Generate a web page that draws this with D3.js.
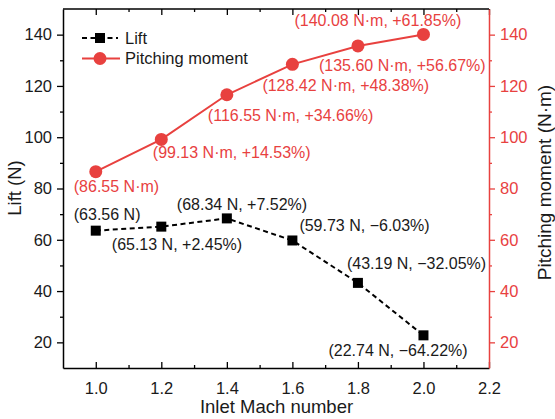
<!DOCTYPE html>
<html>
<head>
<meta charset="utf-8">
<script src="https://cdn.jsdelivr.net/npm/d3@7"></script>
<style>
  body { margin: 0; background: #fff; }
  svg { display: block; font-family: "Liberation Sans", Arial, sans-serif; }
</style>
</head>
<body>
<svg id="chart" width="555" height="419"></svg>
<script>
// Inlet Mach numbers
const mach = [1.0, 1.2, 1.4, 1.6, 1.8, 2.0];
// Lift (N)
const lift = [63.56, 65.13, 68.34, 59.73, 43.19, 22.74];
// Pitching moment (N·m)
const pitch = [86.55, 99.13, 116.55, 128.42, 135.60, 140.08];
// Annotation texts
const liftLabels = ["(63.56 N)", "(65.13 N, +2.45%)", "(68.34 N, +7.52%)", "(59.73 N, \u22126.03%)", "(43.19 N, \u221232.05%)", "(22.74 N, \u221264.22%)"];
const pitchLabels = ["(86.55 N\u00b7m)", "(99.13 N\u00b7m, +14.53%)", "(116.55 N\u00b7m, +34.66%)", "(128.42 N\u00b7m, +48.38%)", "(135.60 N\u00b7m, +56.67%)", "(140.08 N\u00b7m, +61.85%)"];
// Axis ticks
const xTicks = [1.0, 1.2, 1.4, 1.6, 1.8, 2.0, 2.2];
const xMinor = [1.1, 1.3, 1.5, 1.7, 1.9, 2.1];
const yTicks = [20, 40, 60, 80, 100, 120, 140];
const yMinor = [30, 50, 70, 90, 110, 130];

const RED = "#e8413f";
const svg = d3.select("#chart");
const L = 63, R = 489, T = 9, B = 368;

const x = d3.scaleLinear().domain([0.9, 2.2]).range([L, R]);
const yL = d3.scaleLinear().domain([10, 150]).range([B, T]);
const yR = d3.scaleLinear().domain([10, 150]).range([B, T]);

// top frame line
svg.append("line").attr("x1", L).attr("x2", R).attr("y1", T).attr("y2", T)
  .attr("stroke", "#000").attr("stroke-width", 1.5);

// bottom axis (ticks pointing inward)
svg.append("g").attr("transform", `translate(0,${B})`)
  .call(d3.axisBottom(x).tickValues(xTicks).tickFormat(d3.format(".1f")).tickSizeInner(-6).tickSizeOuter(0).tickPadding(14));
svg.append("g").attr("transform", `translate(0,${B})`)
  .call(d3.axisBottom(x).tickValues(xMinor).tickFormat("").tickSizeInner(-3).tickSizeOuter(0))
  .select(".domain").remove();
// top mirror ticks
svg.append("g").attr("transform", `translate(0,${T})`)
  .call(d3.axisTop(x).tickValues(xTicks).tickFormat("").tickSizeInner(-6).tickSizeOuter(0))
  .select(".domain").remove();
svg.append("g").attr("transform", `translate(0,${T})`)
  .call(d3.axisTop(x).tickValues(xMinor).tickFormat("").tickSizeInner(-3).tickSizeOuter(0))
  .select(".domain").remove();

// left axis (ticks outward)
svg.append("g").attr("transform", `translate(${L},0)`)
  .call(d3.axisLeft(yL).tickValues(yTicks).tickSizeInner(6).tickSizeOuter(0).tickPadding(5));
svg.append("g").attr("transform", `translate(${L},0)`)
  .call(d3.axisLeft(yL).tickValues(yMinor).tickFormat("").tickSizeInner(3).tickSizeOuter(0))
  .select(".domain").remove();

// right axis in red
const gr = svg.append("g").attr("transform", `translate(${R},0)`)
  .call(d3.axisRight(yR).tickValues(yTicks).tickSizeInner(6).tickSizeOuter(0).tickPadding(5));
const grm = svg.append("g").attr("transform", `translate(${R},0)`)
  .call(d3.axisRight(yR).tickValues(yMinor).tickFormat("").tickSizeInner(3).tickSizeOuter(0));
grm.select(".domain").remove();

svg.selectAll(".domain").attr("stroke-width", 1.5);
svg.selectAll(".tick line").attr("stroke-width", 1.3);
svg.selectAll(".tick text").attr("font-size", 16.5).attr("font-family", "Liberation Sans, Arial, sans-serif").attr("fill", "#1a1a1a");
gr.selectAll(".domain, .tick line").attr("stroke", RED);
grm.selectAll(".tick line").attr("stroke", RED);
gr.selectAll(".tick text").attr("fill", RED);

// axis titles
svg.append("text").attr("x", 276.5).attr("y", 413).attr("text-anchor", "middle")
  .attr("font-size", 18.5).attr("fill", "#1a1a1a").text("Inlet Mach number");
svg.append("text").attr("transform", `translate(21,188) rotate(-90)`).attr("text-anchor", "middle")
  .attr("font-size", 18.5).attr("fill", "#1a1a1a").text("Lift (N)");
svg.append("text").attr("transform", `translate(551,182.5) rotate(-90)`).attr("text-anchor", "middle")
  .attr("font-size", 19).attr("fill", "#1a1a1a").text("Pitching moment (N\u00b7m)");

// pitching moment series
const pLine = d3.line().x((d, i) => x(mach[i])).y(d => yR(d));
svg.append("path").datum(pitch).attr("d", pLine).attr("fill", "none")
  .attr("stroke", RED).attr("stroke-width", 2);
svg.selectAll("circle.pm").data(pitch).join("circle").attr("class", "pm")
  .attr("cx", (d, i) => x(mach[i])).attr("cy", d => yR(d)).attr("r", 6.5).attr("fill", RED);

// lift series
const lLine = d3.line().x((d, i) => x(mach[i])).y(d => yL(d));
svg.append("path").datum(lift).attr("d", lLine).attr("fill", "none")
  .attr("stroke", "#000").attr("stroke-width", 2).attr("stroke-dasharray", "5,3.5");
const S = 10;
svg.selectAll("rect.lift").data(lift).join("rect").attr("class", "lift")
  .attr("x", (d, i) => x(mach[i]) - S / 2).attr("y", d => yL(d) - S / 2)
  .attr("width", S).attr("height", S).attr("fill", "#000");

// annotation offsets (text start and baseline) relative to each point
const liftOff = [[-22, -11], [-49.5, 23], [-50, -8], [7, -9], [-11, -14], [-95, 21]];
const pitchOff = [[-22, 20], [-8.5, 18.5], [-19, 26], [-30, 27], [-39, 25], [-129, -8.5]];

svg.selectAll("text.ll").data(lift).join("text").attr("class", "ll")
  .attr("x", (d, i) => x(mach[i]) + liftOff[i][0]).attr("y", (d, i) => yL(d) + liftOff[i][1])
  .attr("font-size", 16).attr("fill", "#1a1a1a")
  .text((d, i) => liftLabels[i]);
svg.selectAll("text.pl").data(pitch).join("text").attr("class", "pl")
  .attr("x", (d, i) => x(mach[i]) + pitchOff[i][0]).attr("y", (d, i) => yR(d) + pitchOff[i][1])
  .attr("font-size", 16).attr("fill", RED)
  .text((d, i) => pitchLabels[i]);

// legend
const lg = svg.append("g");
lg.append("line").attr("x1", 82).attr("x2", 118).attr("y1", 38).attr("y2", 38)
  .attr("stroke", "#000").attr("stroke-width", 2).attr("stroke-dasharray", "5,3.5");
lg.append("rect").attr("x", 100 - S / 2).attr("y", 38 - S / 2).attr("width", S).attr("height", S).attr("fill", "#000");
lg.append("text").attr("x", 125).attr("y", 44).attr("font-size", 16.5).attr("fill", "#1a1a1a").text("Lift");
lg.append("line").attr("x1", 82).attr("x2", 120).attr("y1", 58.5).attr("y2", 58.5)
  .attr("stroke", RED).attr("stroke-width", 2);
lg.append("circle").attr("cx", 100).attr("cy", 58.5).attr("r", 6.5).attr("fill", RED);
lg.append("text").attr("x", 125).attr("y", 64).attr("font-size", 16.5).attr("fill", "#1a1a1a").text("Pitching moment");
</script>
</body>
</html>
